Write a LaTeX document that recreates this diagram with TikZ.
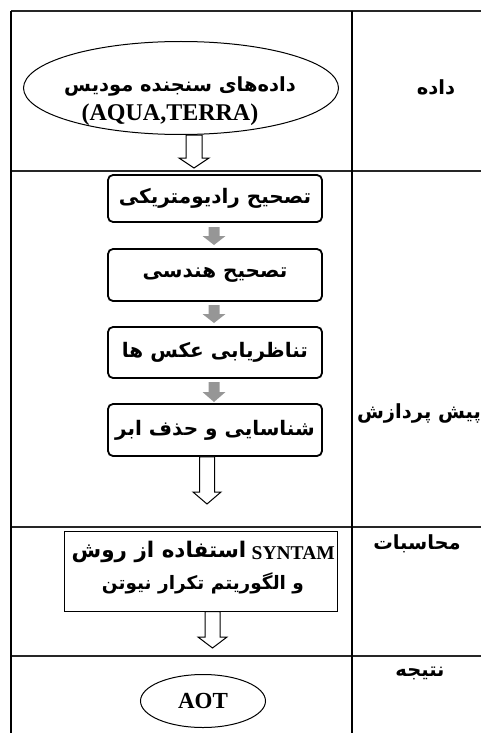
\documentclass[tikz,border=0pt]{standalone}
\usepackage{fontspec}
\setmainfont{Liberation Serif}
\newfontfamily\fa[Script=Arabic]{DejaVu Sans}
\TeXXeTstate=1
\usetikzlibrary{shapes.geometric,calc}
\definecolor{arrgray}{RGB}{150,150,150}
\newcommand\blockarr[6]{%
  \draw[#6] ($(#1)+(-#3,0)$) -- ($(#2)+(-#3,-#5)$) -- ($(#2)+(-#4,-#5)$) -- (#2)
    -- ($(#2)+(#4,-#5)$) -- ($(#2)+(#3,-#5)$) -- ($(#1)+(#3,0)$) -- cycle;}
\begin{document}
\begin{tikzpicture}[x=1pt,y=-1pt,
  tableline/.style={line width=1.2pt,black!85},
  procbox/.style={draw,line width=1.8pt,rounded corners=5pt,minimum width=214,inner sep=0,
    font=\fa\bfseries\fontsize{20}{24}\selectfont},
  fatext/.style={font=\fa\bfseries\fontsize{19.5}{23}\selectfont,inner sep=0},
  latext/.style={font=\bfseries\fontsize{24}{28}\selectfont,inner sep=0},
  lbl/.style={font=\fa\bfseries\fontsize{19.5}{24}\selectfont,inner sep=0},
  hollow/.style={draw=black,line width=1pt,fill=white,line join=miter},
  grayarr/.style={fill=arrgray,draw=none}]
\useasboundingbox (0,0) rectangle (481,733);
% table
\draw[tableline] (11,11) -- (481,11);
\draw[tableline] (11,171) -- (481,171);
\draw[tableline] (11,527) -- (481,527);
\draw[tableline] (11,656) -- (481,656);
\draw[line width=1.4pt] (11,11) -- (11,733);
\draw[line width=2pt] (352,11) -- (352,733);
% labels
\node[lbl] (l1) at (436,87) {\beginR داده\endR};
\node[lbl] (l2) at (419,413) {\beginR پیش پردازش\endR};
\node[lbl] (l3) at (417,544) {\beginR محاسبات\endR};
\node[lbl] (l4) at (420,673) {\beginR نتیجه\endR};
% data ellipse
\node[ellipse,draw,line width=1pt,minimum width=315,minimum height=93,inner sep=0] (e1) at (181,88) {};
\node[fatext] (e1a) at (180,86) {\beginR داده‌های سنجنده مودیس\endR};
\node[latext] (e1b) at (170,115) {(AQUA,TERRA)};
% preprocessing boxes
\node[procbox,minimum height=47] (b1) at (215,198.5) {\beginR تصحیح رادیومتریکی\endR};
\node[procbox,minimum height=52] (b2) at (215,275) {\beginR تصحیح هندسی\endR};
\node[procbox,minimum height=51] (b3) at (215,352.5) {\beginR تناظریابی عکس ها\endR};
\node[procbox,minimum height=52] (b4) at (215,430) {\beginR شناسایی و حذف ابر\endR};
% computation box
\node[draw,line width=1pt,minimum width=273,minimum height=80,inner sep=0] (s) at (200.5,571) {};
\node[anchor=east,inner sep=0,font=\bfseries\fontsize{19.5}{23}\selectfont] (s1b) at (335,553) {SYNTAM};
\node[anchor=east,inner sep=0,font=\fa\bfseries\fontsize{21.5}{25}\selectfont] (s1a)
  at ($(s1b.west)+(-5,-1)$) {\beginR استفاده از روش\endR};
\node[inner sep=0,font=\fa\bfseries\fontsize{18.5}{22}\selectfont] (s2) at (203,583)
  {\beginR و الگوریتم تکرار نیوتن\endR};
% result ellipse
\node[ellipse,draw,line width=1pt,minimum width=125,minimum height=53,inner sep=0,
  font=\bfseries\fontsize{23}{27}\selectfont] (aot) at (203,701) {AOT};
% arrow end points
\coordinate (h1s) at (e1.south -| 194,0);
\coordinate (h1e) at (194,168);
\coordinate (g1s) at (214,227);
\coordinate (g1e) at (214,245);
\coordinate (g2s) at (214,305);
\coordinate (g2e) at (214,323);
\coordinate (g3s) at (214,382);
\coordinate (g3e) at (214,402);
\coordinate (h2s) at (b4.south -| 207,0);
\coordinate (h2e) at (207,504);
\coordinate (h3s) at (s.south -| 212.5,0);
\coordinate (h3e) at (212.5,648);
% arrows
\blockarr{h1s}{h1e}{8}{15}{10}{hollow}
\blockarr{g1s}{g1e}{5.5}{11.5}{9}{grayarr}
\blockarr{g2s}{g2e}{5.5}{11.5}{9}{grayarr}
\blockarr{g3s}{g3e}{5.5}{11.5}{10}{grayarr}
\blockarr{h2s}{h2e}{7.5}{14}{12}{hollow}
\blockarr{h3s}{h3e}{7.5}{14.5}{11}{hollow}
\end{tikzpicture}
\end{document}
